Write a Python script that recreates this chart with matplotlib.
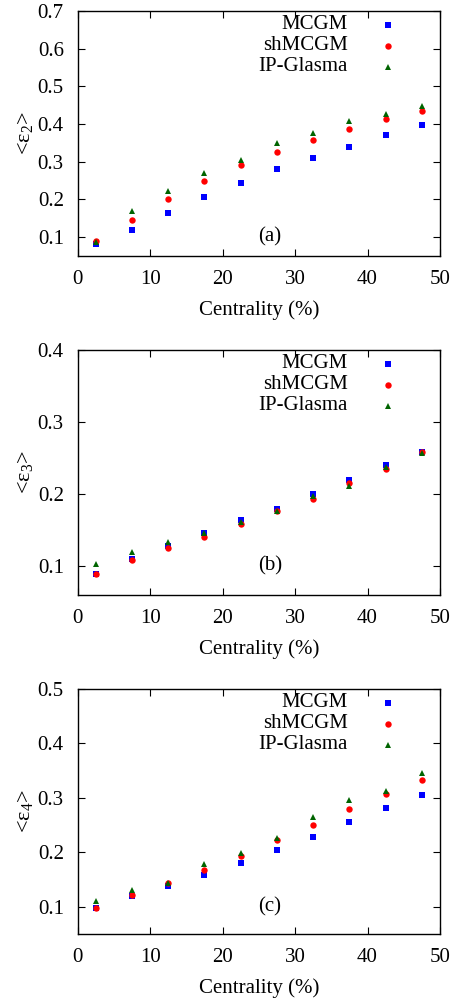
import matplotlib
matplotlib.use('Agg')
import matplotlib.pyplot as plt

plt.rcParams['font.family'] = ['Liberation Serif', 'DejaVu Serif']
plt.rcParams['mathtext.fontset'] = 'custom'
plt.rcParams['mathtext.rm'] = 'Liberation Serif'
plt.rcParams['mathtext.it'] = 'Liberation Serif:italic'

centrality = [2.5, 7.5, 12.5, 17.5, 22.5, 27.5, 32.5, 37.5, 42.5, 47.5]
series_names = ['MCGM', 'shMCGM', 'IP-Glasma']

# <eps_2>
eps2_mcgm = [0.083, 0.120, 0.164, 0.206, 0.243, 0.281, 0.310, 0.339, 0.371, 0.397]
eps2_shmcgm = [0.090, 0.145, 0.200, 0.248, 0.291, 0.327, 0.359, 0.387, 0.414, 0.436]
eps2_ipglasma = [0.088, 0.170, 0.222, 0.271, 0.304, 0.349, 0.376, 0.409, 0.427, 0.448]

# <eps_3>
eps3_mcgm = [0.089, 0.110, 0.128, 0.146, 0.164, 0.180, 0.200, 0.219, 0.240, 0.259]
eps3_shmcgm = [0.089, 0.109, 0.125, 0.141, 0.159, 0.176, 0.193, 0.215, 0.235, 0.258]
eps3_ipglasma = [0.103, 0.120, 0.133, 0.146, 0.161, 0.177, 0.197, 0.211, 0.237, 0.257]

# <eps_4>
eps4_mcgm = [0.097, 0.119, 0.139, 0.159, 0.181, 0.205, 0.229, 0.255, 0.281, 0.305]
eps4_shmcgm = [0.097, 0.122, 0.143, 0.167, 0.193, 0.223, 0.251, 0.279, 0.307, 0.333]
eps4_ipglasma = [0.110, 0.131, 0.144, 0.178, 0.198, 0.227, 0.265, 0.296, 0.313, 0.345]

panels = [
    ('(a)', '<ε$_2$>', (0.05, 0.7), [0.1, 0.2, 0.3, 0.4, 0.5, 0.6, 0.7],
     [eps2_mcgm, eps2_shmcgm, eps2_ipglasma], 0.744),
    ('(b)', '<ε$_3$>', (0.06, 0.4), [0.1, 0.2, 0.3, 0.4],
     [eps3_mcgm, eps3_shmcgm, eps3_ipglasma], 0.405),
    ('(c)', '<ε$_4$>', (0.05, 0.5), [0.1, 0.2, 0.3, 0.4, 0.5],
     [eps4_mcgm, eps4_shmcgm, eps4_ipglasma], 0.066),
]

styles = [('s', '#0000ff', 5.0), ('o', '#ff0000', 4.6), ('^', '#006400', 4.2)]

fig = plt.figure(figsize=(4.55, 10), dpi=100)

for tag, ylab, ylim, yticks, values, bottom in panels:
    ax = fig.add_axes([0.1707, bottom, 0.7963, 0.245])
    for name, vals, (mk, col, ms) in zip(series_names, values, styles):
        ax.plot(centrality, vals, linestyle='none', marker=mk, color=col,
                markersize=ms, markeredgewidth=0)

    # gnuplot-style key: right-aligned text, marker to the right
    for i, (name, (mk, col, ms)) in enumerate(zip(series_names, styles)):
        yk = 0.943 - i * 0.085
        ax.text(0.746, yk, name, transform=ax.transAxes, ha='right',
                va='center', fontsize=15)
        ax.plot([0.857], [yk], transform=ax.transAxes, linestyle='none',
                marker=mk, color=col, markersize=ms, markeredgewidth=0,
                clip_on=False)

    ax.text(26.5, 0.1, tag, ha='center', va='center', fontsize=15)

    ax.set_xlim(0, 50)
    ax.set_ylim(*ylim)
    ax.set_xticks([0, 10, 20, 30, 40, 50])
    ax.set_yticks(yticks)
    ax.set_yticklabels([f'{t:.1f}' for t in yticks])
    ax.tick_params(direction='in', top=True, right=True, length=5,
                   width=0.8, labelsize=15)
    ax.tick_params(axis='x', pad=10)
    ax.tick_params(axis='y', pad=10)
    for sp in ax.spines.values():
        sp.set_linewidth(1.0)
    ax.set_xlabel('Centrality (%)', fontsize=15, labelpad=8)
    ax.set_ylabel(ylab, fontsize=16, labelpad=2)

fig.savefig('out.png', dpi=100)
